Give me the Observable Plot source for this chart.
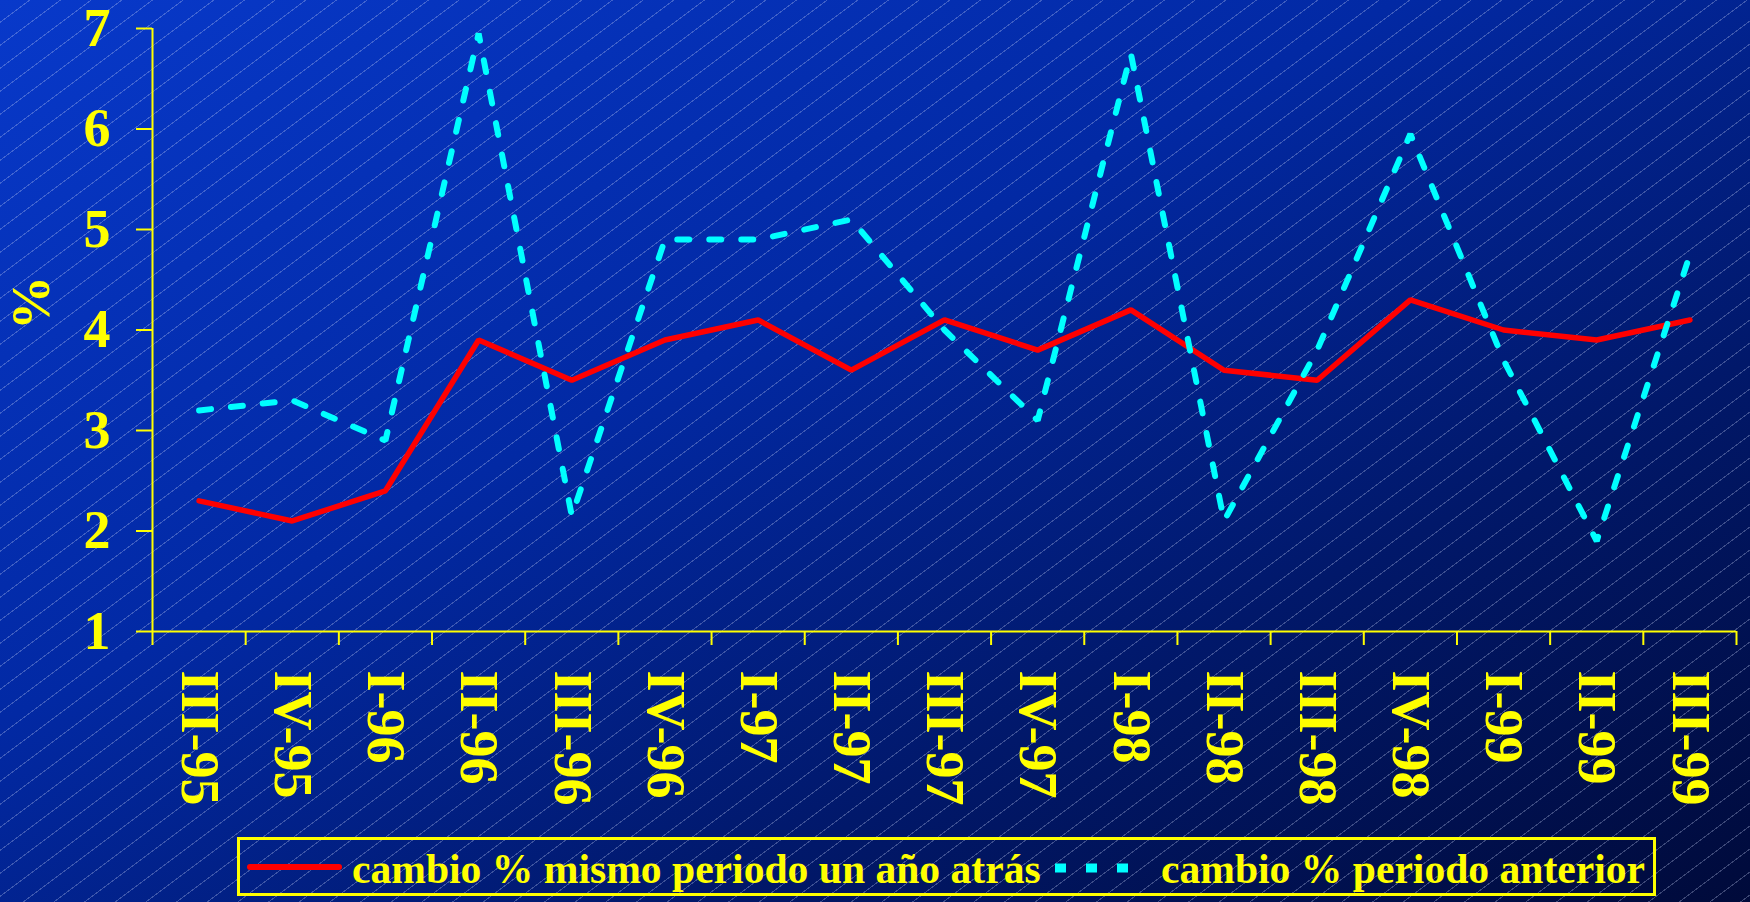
<!DOCTYPE html>
<html>
<head>
<meta charset="utf-8">
<script src="https://cdn.jsdelivr.net/npm/d3@7"></script>
<script src="https://cdn.jsdelivr.net/npm/@observablehq/plot@0.6"></script>
<style>
  html, body { margin: 0; padding: 0; }
  #wrap {
    position: relative;
    width: 1750px;
    height: 902px;
    overflow: hidden;
    background:
      repeating-linear-gradient(143.13deg,
        rgba(200,210,245,0) 0px, rgba(200,210,245,0) 17.4px,
        rgba(200,210,245,0.30) 17.4px, rgba(200,210,245,0.30) 18.4px),
      linear-gradient(to bottom right, #0839ca 0%, #0229a4 40%, #01186a 70%, #000a3a 100%);
  }
  #chart svg { display: block; }
  #legend { position: absolute; left: 237px; top: 837px; }
</style>
</head>
<body>
<div id="wrap">
  <div id="chart"></div>
  <div id="legend"></div>
</div>
<script>
// ---- data ----
const categories = ["III-95","IV-95","I-96","II-96","III-96","IV-96","I-97","II-97","III-97","IV-97","I-98","II-98","III-98","IV-98","I-99","II-99","III-99"];
const yoyChange = [2.3, 2.1, 2.4, 3.9, 3.5, 3.9, 4.1, 3.6, 4.1, 3.8, 4.2, 3.6, 3.5, 4.3, 4.0, 3.9, 4.1];
const qoqChange = [3.2, 3.3, 2.9, 6.95, 2.15, 4.9, 4.9, 5.1, 4.0, 3.1, 6.75, 2.1, 3.8, 5.95, 3.7, 1.9, 4.75];
const yTicks = [1, 2, 3, 4, 5, 6, 7];
const yLabel = "%";
const seriesNames = ["cambio % mismo periodo un año atrás", "cambio % periodo anterior"];

// ---- derived table ----
const rows = categories.map((cat, i) => ({cat, i, yoy: yoyChange[i], qoq: qoqChange[i]}));
const boundaries = d3.range(categories.length + 1).map(i => i - 0.5);

const YELLOW = "#FFFF00";
const RED = "#FF0000";
const CYAN = "#00FFFF";
const FONT = "'Liberation Serif', 'Times New Roman', serif";

const chart = Plot.plot({
  width: 1750,
  height: 830,
  marginLeft: 152,
  marginRight: 14,
  marginTop: 28,
  marginBottom: 199,
  x: {type: "linear", domain: [boundaries[0], boundaries[boundaries.length - 1]], label: null},
  y: {domain: [yTicks[0], yTicks[yTicks.length - 1]], label: null},
  style: {background: "transparent", color: YELLOW, fontFamily: FONT, fontWeight: "bold", overflow: "visible"},
  marks: [
    Plot.axisY({ticks: yTicks, tickSize: 16, tickPadding: 26, fontSize: 54, tickFormat: d => String(d), strokeWidth: 2, label: null}),
    Plot.axisX({ticks: boundaries, tickSize: 14, tickFormat: () => "", strokeWidth: 2, label: null}),
    Plot.ruleY([yTicks[0]], {stroke: YELLOW, strokeWidth: 2}),
    Plot.ruleX([boundaries[0]], {stroke: YELLOW, strokeWidth: 2}),
    Plot.text(rows, {x: "i", text: "cat", frameAnchor: "bottom", dy: 39, rotate: 90, textAnchor: "start", lineAnchor: "middle", fontSize: 54, fill: YELLOW}),
    Plot.text([yLabel], {text: d => d, frameAnchor: "left", dx: -121, rotate: -90, fontSize: 54, fill: YELLOW}),
    Plot.line(rows, {x: "i", y: "yoy", stroke: RED, strokeWidth: 5.5, strokeLinejoin: "miter"}),
    Plot.line(rows, {x: "i", y: "qoq", stroke: CYAN, strokeWidth: 6, strokeDasharray: "12,20", strokeLinejoin: "miter"})
  ]
});
document.getElementById("chart").appendChild(chart);

// ---- legend ----
const lg = d3.select("#legend").append("svg")
  .attr("width", 1419).attr("height", 60)
  .style("display", "block")
  .style("overflow", "visible");
lg.append("rect").attr("x", 1.5).attr("y", 1.5).attr("width", 1416).attr("height", 56)
  .attr("fill", "none").attr("stroke", YELLOW).attr("stroke-width", 3);
lg.append("line").attr("x1", 13).attr("x2", 102).attr("y1", 30).attr("y2", 30)
  .attr("stroke", RED).attr("stroke-width", 6).attr("stroke-linecap", "round");
lg.append("text").attr("x", 115).attr("y", 46).text(seriesNames[0])
  .attr("fill", YELLOW).style("font-family", FONT).style("font-weight", "bold").style("font-size", "41.6px");
lg.append("line").attr("x1", 818).attr("x2", 896).attr("y1", 31).attr("y2", 31)
  .attr("stroke", CYAN).attr("stroke-width", 9).attr("stroke-dasharray", "11,20");
lg.append("text").attr("x", 924).attr("y", 46).text(seriesNames[1])
  .attr("fill", YELLOW).style("font-family", FONT).style("font-weight", "bold").style("font-size", "41.6px");
</script>
</body>
</html>
